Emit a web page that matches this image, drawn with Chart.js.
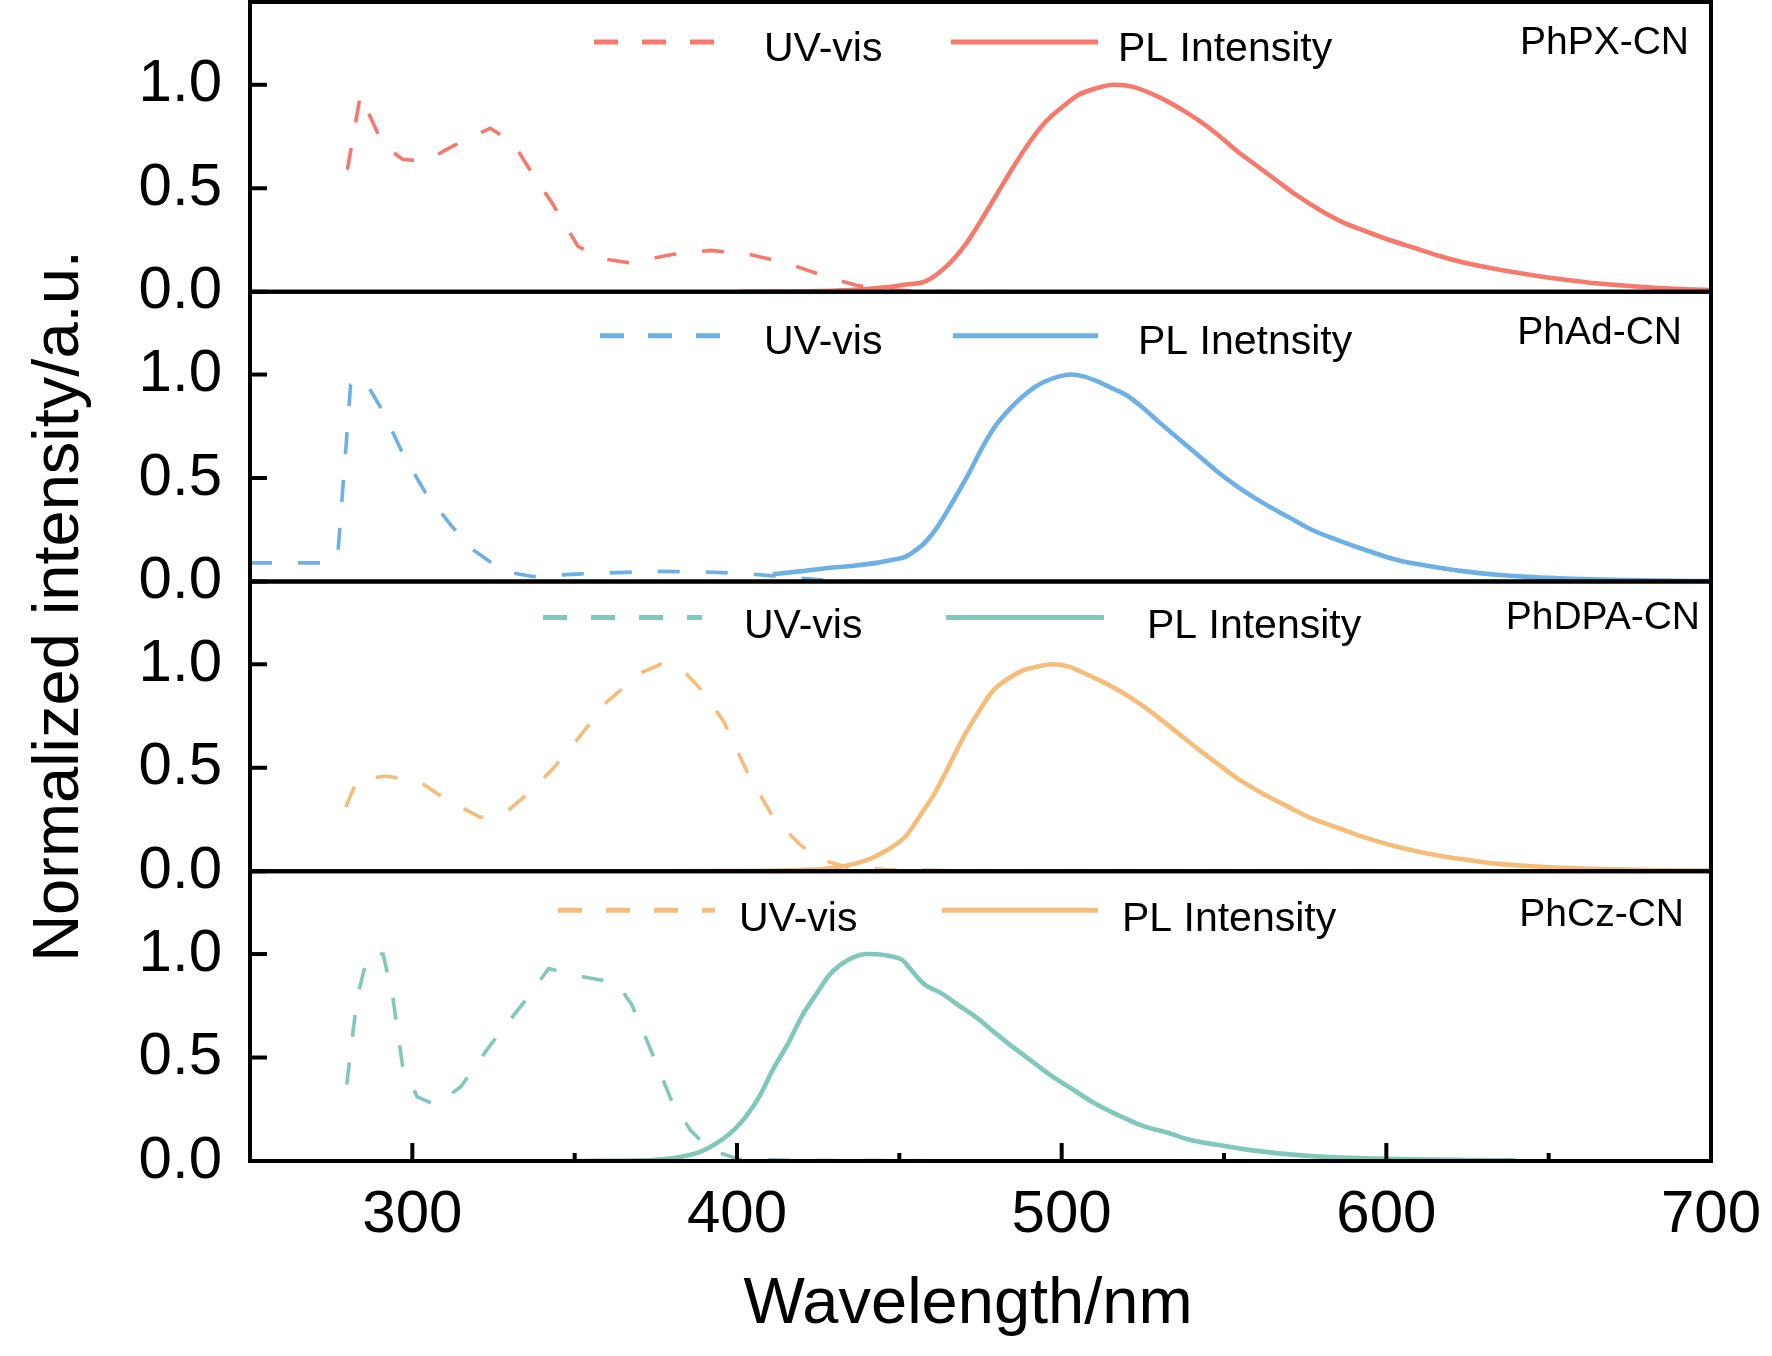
<!DOCTYPE html>
<html><head><meta charset="utf-8">
<script src="https://cdn.jsdelivr.net/npm/chart.js@4.4.1/dist/chart.umd.min.js"></script>
<style>html,body{margin:0;padding:0;background:#fff;}canvas{display:block;}</style>
</head><body>
<canvas id="c" width="1772" height="1356"></canvas>
<script>
// ---------- DATA ----------
const panelNames = ['PhPX-CN', 'PhAd-CN', 'PhDPA-CN', 'PhCz-CN'];
const uvLegendText = ['UV-vis', 'UV-vis', 'UV-vis', 'UV-vis'];
const plLegendText = ['PL Intensity', 'PL Inetnsity', 'PL Intensity', 'PL Intensity'];
const xTickLabels = [300, 400, 500, 600, 700];
const yTickValues = [0, 0.5, 1.0];
const xTitle = 'Wavelength/nm';
const yTitle = 'Normalized intensity/a.u.';

// PhPX-CN
const uvPXwl  = [280, 284, 291, 297, 304, 312, 324, 331, 337, 343, 351, 358, 367, 380, 392, 404, 416, 428, 437, 446, 455, 470, 500, 550, 601];
const uvPXval = [0.59, 0.95, 0.71, 0.64, 0.63, 0.70, 0.79, 0.72, 0.57, 0.43, 0.22, 0.16, 0.14, 0.18, 0.20, 0.18, 0.135, 0.07, 0.03, 0.01, 0.003, 0.001, 0, 0, 0];
const plPXwl  = [400, 420, 435, 445, 452, 458, 465, 470, 475, 480, 485, 490, 495, 500, 505, 510, 516, 522, 530, 537, 542, 548, 554, 560, 566, 572, 579, 586, 594, 601, 609, 617, 624, 632, 639, 647, 654, 662, 669, 677, 684, 692, 700];
const plPXval = [0, 0.002, 0.008, 0.02, 0.035, 0.05, 0.13, 0.22, 0.34, 0.47, 0.6, 0.72, 0.82, 0.89, 0.95, 0.98, 1.0, 0.99, 0.94, 0.88, 0.83, 0.76, 0.68, 0.61, 0.54, 0.47, 0.40, 0.34, 0.29, 0.25, 0.21, 0.17, 0.14, 0.115, 0.095, 0.075, 0.06, 0.045, 0.035, 0.025, 0.018, 0.012, 0.008];

// PhAd-CN
const uvAdwl  = [250, 273, 277, 281, 285, 291, 297, 304, 312, 319, 328, 337, 352, 374, 389, 404, 419, 428, 440, 700];
const uvAdval = [0.09, 0.09, 0.12, 0.95, 0.98, 0.82, 0.62, 0.43, 0.27, 0.15, 0.05, 0.024, 0.037, 0.049, 0.047, 0.037, 0.016, 0.005, 0, 0];
const plAdwl  = [411, 420, 428, 435, 443, 448, 452, 455, 458, 462, 467, 471, 476, 480, 485, 490, 494, 499, 503, 507, 512, 516, 520, 525, 530, 536, 542, 548, 554, 562, 570, 577, 585, 594, 603, 613, 624, 634, 645, 657, 669, 684, 700];
const plAdval = [0.035, 0.05, 0.065, 0.075, 0.09, 0.105, 0.12, 0.15, 0.19, 0.27, 0.40, 0.51, 0.66, 0.76, 0.85, 0.92, 0.96, 0.99, 1.0, 0.99, 0.96, 0.93, 0.90, 0.84, 0.77, 0.69, 0.61, 0.53, 0.46, 0.38, 0.31, 0.25, 0.20, 0.15, 0.105, 0.075, 0.049, 0.033, 0.021, 0.013, 0.008, 0.004, 0.002];

// PhDPA-CN
const uvDPAwl  = [279.5, 283, 292, 302.5, 310, 321, 330, 336, 343, 351, 360, 370.6, 376.6, 384, 390, 396, 403.7, 411, 419, 425, 434, 446, 470, 601];
const uvDPAval = [0.31, 0.44, 0.46, 0.43, 0.35, 0.26, 0.30, 0.38, 0.49, 0.64, 0.82, 0.96, 1.0, 0.96, 0.86, 0.72, 0.46, 0.265, 0.135, 0.06, 0.02, 0.008, 0.002, 0];
const plDPAwl  = [380, 416, 428, 440, 446, 452, 456, 461, 465, 470, 474, 479, 484, 488, 493, 497, 502, 506, 512, 518, 524, 530, 536, 542, 548, 554, 562, 570, 577, 585, 594, 603, 613, 624, 634, 645, 657, 669, 684, 700];
const plDPAval = [0, 0.005, 0.013, 0.054, 0.10, 0.17, 0.26, 0.38, 0.50, 0.655, 0.76, 0.875, 0.935, 0.97, 0.99, 1.0, 0.99, 0.964, 0.92, 0.87, 0.81, 0.74, 0.665, 0.59, 0.52, 0.45, 0.375, 0.31, 0.255, 0.21, 0.16, 0.12, 0.085, 0.057, 0.037, 0.024, 0.015, 0.01, 0.005, 0.003];

// PhCz-CN
const uvCzwl  = [279.8, 283, 286.4, 291, 294, 297, 301.5, 307.4, 315, 324, 334.5, 342, 352.5, 363, 367.6, 373.6, 379.6, 385.6, 391.7, 400.7, 420, 601];
const uvCzval = [0.37, 0.79, 1.0, 1.0, 0.79, 0.46, 0.31, 0.27, 0.36, 0.56, 0.77, 0.93, 0.89, 0.86, 0.755, 0.53, 0.30, 0.15, 0.054, 0.008, 0.002, 0];
const plCzwl  = [350, 374, 380, 389, 398, 403, 407, 411, 416, 420, 425, 428, 432, 436, 440, 444, 447, 451, 453, 456, 458, 463, 468, 474, 479, 485, 491, 497, 503, 510, 518, 525, 533, 540, 548, 557, 566, 575, 584, 596, 608, 624, 640];
const plCzval = [0, 0.005, 0.013, 0.046, 0.135, 0.22, 0.315, 0.44, 0.576, 0.70, 0.82, 0.89, 0.95, 0.985, 1.0, 0.998, 0.99, 0.97, 0.935, 0.88, 0.85, 0.81, 0.755, 0.69, 0.625, 0.55, 0.48, 0.41, 0.35, 0.28, 0.217, 0.17, 0.135, 0.10, 0.078, 0.055, 0.038, 0.026, 0.018, 0.012, 0.008, 0.005, 0.003];

// ---------- STYLE / LAYOUT ----------
const RED = '#F7796C', BLUE = '#6CB0E6', ORANGE = '#F5BD79', TEAL = '#80C7BC';
const FONT = '"Liberation Sans", Arial, Helvetica, sans-serif';
const panels = [
  { id: 'y1', uvWl: uvPXwl,  uvVal: uvPXval,  plWl: plPXwl,  plVal: plPXval,  color: RED,    legColor: RED,
    leg: { d0: 594, d1: 719, lineOff: 40, uvX: 764, s0: 951, s1: 1098, plX: 1118, textOff: 48, labR: 1689, labOff: 41 } },
  { id: 'y2', uvWl: uvAdwl,  uvVal: uvAdval,  plWl: plAdwl,  plVal: plAdval,  color: BLUE,   legColor: BLUE,
    leg: { d0: 600, d1: 721, lineOff: 44, uvX: 764, s0: 953, s1: 1098, plX: 1138, textOff: 51, labR: 1682, labOff: 41 } },
  { id: 'y3', uvWl: uvDPAwl, uvVal: uvDPAval, plWl: plDPAwl, plVal: plDPAval, color: ORANGE, legColor: TEAL,
    leg: { d0: 543, d1: 702, lineOff: 36, uvX: 744, s0: 946, s1: 1104, plX: 1147, textOff: 45, labR: 1700, labOff: 37 } },
  { id: 'y4', uvWl: uvCzwl,  uvVal: uvCzval,  plWl: plCzwl,  plVal: plCzval,  color: TEAL,   legColor: ORANGE,
    leg: { d0: 558, d1: 715, lineOff: 39, uvX: 739, s0: 942, s1: 1098, plX: 1122, textOff: 48, labR: 1684, labOff: 44 } }
];

const toXY = (wl, val) => wl.map((w, i) => ({ x: w, y: val[i] }));

const datasets = [];
panels.forEach((p, i) => {
  datasets.push({
    label: panelNames[i] + ' ' + uvLegendText[i], data: toXY(p.uvWl, p.uvVal), yAxisID: p.id,
    borderColor: p.color, borderWidth: 3.6, borderDash: [22, 26], pointRadius: 0, tension: 0, fill: false
  });
  datasets.push({
    label: panelNames[i] + ' ' + plLegendText[i], data: toXY(p.plWl, p.plVal), yAxisID: p.id,
    borderColor: p.color, borderWidth: 4.6, pointRadius: 0, cubicInterpolationMode: 'monotone', fill: false
  });
});

const zeroPad = s => { s.paddingTop = 0; s.paddingBottom = 0; s.paddingLeft = 0; s.paddingRight = 0; };

const yBase = () => ({
  type: 'linear', position: 'left', min: 0, max: 1.4, stack: 'panels', stackWeight: 1,
  grid: { display: false, drawTicks: false }, border: { display: false },
  ticks: { font: { size: 60, family: FONT }, color: '#000', padding: 28, callback: v => Number(v).toFixed(1) },
  afterBuildTicks: s => { s.ticks = yTickValues.map(v => ({ value: v })); },
  afterFit: s => { s.width = 250; zeroPad(s); }
});

const scales = {
  x: {
    type: 'linear', position: 'bottom', min: 250, max: 700,
    grid: { display: false, drawTicks: false }, border: { display: false },
    ticks: { stepSize: 50, autoSkip: false, maxRotation: 0, font: { size: 60, family: FONT }, color: '#000', padding: 18,
      callback: v => xTickLabels.includes(v) ? String(v) : '' },
    afterFit: s => { s.height = 195; zeroPad(s); }
  }
};
// bottom panel first (left boxes stack in reverse order)
['y4', 'y3', 'y2', 'y1'].forEach(id => { scales[id] = yBase(); });

const framePlugin = {
  id: 'frame',
  afterDatasetsDraw(chart) {
    const ctx = chart.ctx, ca = chart.chartArea;
    ctx.save();
    ctx.strokeStyle = '#000';
    ctx.fillStyle = '#000';
    panels.forEach((p, i) => {
      const ys = chart.scales[p.id];
      ctx.lineWidth = 4;
      ctx.setLineDash([]);
      ctx.strokeRect(ca.left, ys.top, ca.right - ca.left, ys.bottom - ys.top);
      ys.ticks.forEach(t => {
        const py = ys.getPixelForValue(t.value);
        ctx.beginPath(); ctx.moveTo(ca.left, py); ctx.lineTo(ca.left + 17, py); ctx.stroke();
      });
      // legend
      const L = p.leg;
      ctx.lineWidth = 5;
      ctx.strokeStyle = p.legColor;
      ctx.setLineDash([24, 24]);
      ctx.beginPath(); ctx.moveTo(L.d0, ys.top + L.lineOff); ctx.lineTo(L.d1, ys.top + L.lineOff); ctx.stroke();
      ctx.setLineDash([]);
      ctx.beginPath(); ctx.moveTo(L.s0, ys.top + L.lineOff); ctx.lineTo(L.s1, ys.top + L.lineOff); ctx.stroke();
      ctx.strokeStyle = '#000';
      ctx.font = '41px ' + FONT;
      ctx.textAlign = 'left'; ctx.textBaseline = 'middle';
      ctx.fillText(uvLegendText[i], L.uvX, ys.top + L.textOff);
      ctx.fillText(plLegendText[i], L.plX, ys.top + L.textOff);
      ctx.font = '39px ' + FONT;
      ctx.textAlign = 'right';
      ctx.fillText(panelNames[i], L.labR, ys.top + L.labOff);
    });
    // x ticks (inside, bottom only)
    const xs = chart.scales.x;
    const yb = chart.scales[panels[3].id].bottom;
    ctx.lineWidth = 4; ctx.strokeStyle = '#000';
    xs.ticks.forEach(t => {
      if (t.value <= xs.min || t.value >= xs.max) return;
      const px = xs.getPixelForValue(t.value);
      const len = (t.value % 100 === 0) ? 18 : 8;
      ctx.beginPath(); ctx.moveTo(px, yb); ctx.lineTo(px, yb - len); ctx.stroke();
    });
    // axis titles
    ctx.font = '65px ' + FONT;
    ctx.textAlign = 'center'; ctx.textBaseline = 'alphabetic';
    ctx.fillText(xTitle, 968, 1323);
    ctx.translate(78, 606);
    ctx.rotate(-Math.PI / 2);
    ctx.fillText(yTitle, 0, 0);
    ctx.restore();
  }
};

new Chart(document.getElementById('c'), {
  type: 'line',
  data: { datasets },
  options: {
    responsive: false, animation: false, devicePixelRatio: 1,
    layout: { padding: { top: 2, right: 61, left: 0, bottom: 0 } },
    plugins: { legend: { display: false }, tooltip: { enabled: false }, title: { display: false } },
    scales
  },
  plugins: [framePlugin]
});
</script>
</body></html>
